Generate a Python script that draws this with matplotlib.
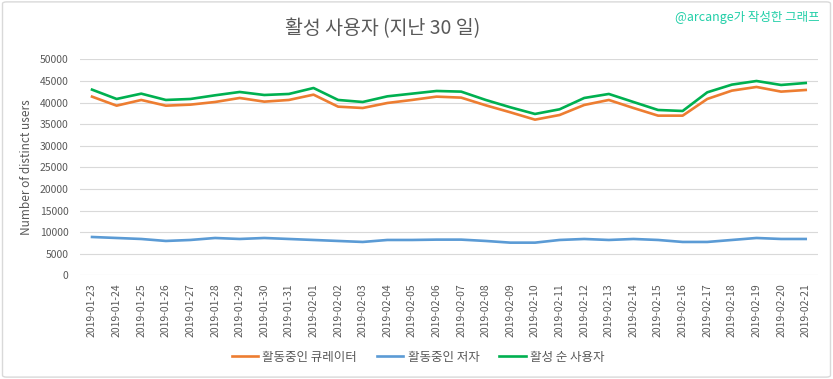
import matplotlib
matplotlib.use('Agg')
import matplotlib.pyplot as plt
from matplotlib.patches import FancyBboxPatch

plt.rcParams['font.family'] = ['Noto Sans CJK KR', 'DejaVu Sans']

dates = ['2019-01-23', '2019-01-24', '2019-01-25', '2019-01-26', '2019-01-27',
         '2019-01-28', '2019-01-29', '2019-01-30', '2019-01-31', '2019-02-01',
         '2019-02-02', '2019-02-03', '2019-02-04', '2019-02-05', '2019-02-06',
         '2019-02-07', '2019-02-08', '2019-02-09', '2019-02-10', '2019-02-11',
         '2019-02-12', '2019-02-13', '2019-02-14', '2019-02-15', '2019-02-16',
         '2019-02-17', '2019-02-18', '2019-02-19', '2019-02-20', '2019-02-21']

curators = [41360, 39270, 40590, 39270, 39510, 40120, 41050, 40200, 40590, 41820,
            39040, 38730, 39890, 40590, 41360, 41130, 39350, 37730, 36030, 37110,
            39430, 40590, 38730, 36960, 36960, 40820, 42750, 43600, 42520, 42900]
authors = [8870, 8640, 8410, 7950, 8180, 8640, 8410, 8640, 8410, 8180,
           7950, 7720, 8180, 8180, 8260, 8260, 7950, 7560, 7560, 8180,
           8410, 8180, 8410, 8180, 7720, 7720, 8180, 8640, 8410, 8410]
active = [42980, 40820, 42050, 40590, 40820, 41670, 42440, 41740, 41980, 43360,
          40590, 40120, 41430, 42050, 42670, 42520, 40590, 38890, 37350, 38430,
          41050, 41980, 40120, 38270, 38040, 42360, 44140, 44980, 44060, 44520]

series_names = ['활동중인 큐레이터', '활동중인 저자', '활성 순 사용자']
colors = ['#ED7D31', '#5B9BD5', '#00B050']

text_color = '#595959'

fig = plt.figure(figsize=(8.33, 3.79), dpi=100)
ax = fig.add_axes([0.0957, 0.2736, 0.8863, 0.5699])

x = list(range(len(dates)))
for vals, name, c in zip([curators, authors, active], series_names, colors):
    ax.plot(x, vals, color=c, lw=1.9, label=name, solid_joinstyle='round')

ax.set_xlim(-0.5, len(dates) - 0.5)
ax.set_ylim(0, 50000)
ax.set_yticks(range(0, 50001, 5000))
ax.set_xticks(x)
ax.set_xticklabels(dates, rotation=90, fontsize=7.5, color=text_color)
ax.tick_params(axis='y', labelsize=7.5, labelcolor=text_color, length=0, pad=8)
ax.tick_params(axis='x', length=0, pad=6)
ax.grid(axis='y', color='#D9D9D9', lw=0.8)
ax.set_axisbelow(True)
for s in ax.spines.values():
    s.set_visible(False)

ax.set_ylabel('Number of distinct users', fontsize=8.5, color=text_color, labelpad=5)

fig.text(383 / 833, 1 - 29 / 379, '활성 사용자 (지난 30 일)', ha='center', va='center',
         fontsize=14, color=text_color)
fig.text(820 / 833, 1 - 18 / 379, '@arcange가 작성한 그래프', ha='right', va='center',
         fontsize=9, color='#22CFA8')

fig.legend(loc='center', bbox_to_anchor=(418 / 833, 1 - 357 / 379), ncol=3,
           frameon=False, fontsize=9, handlelength=2.1, handletextpad=0.35,
           columnspacing=1.6, labelcolor=text_color)

border = FancyBboxPatch((0.003, 0.005), 0.994, 0.99, boxstyle='round,pad=0,rounding_size=0.005',
                        transform=fig.transFigure, fill=False, edgecolor='#D9D9D9', lw=1)
fig.patches.append(border)

fig.savefig('out.png', dpi=100)
